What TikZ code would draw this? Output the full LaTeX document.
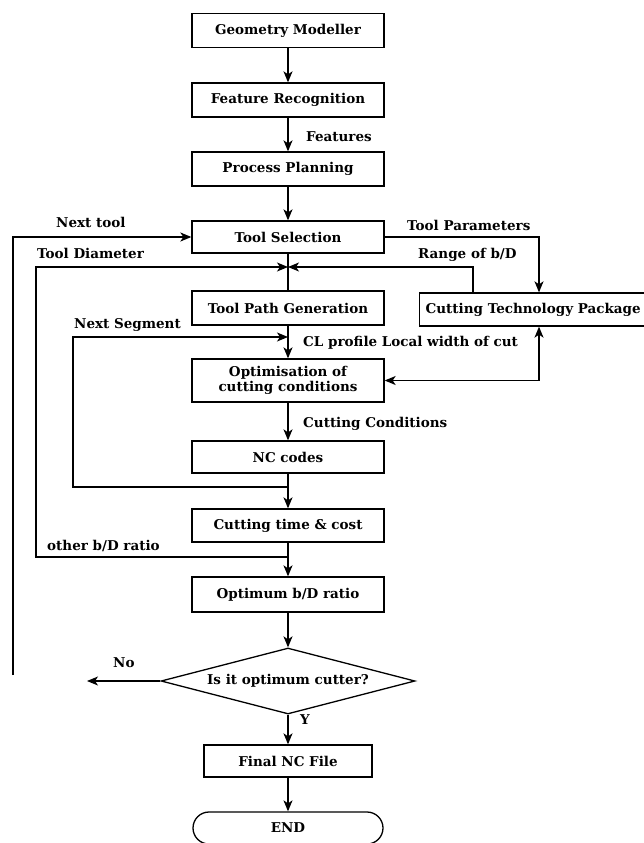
\documentclass[tikz,border=0pt]{standalone}
\usepackage{fontspec}
\setmainfont{DejaVu Serif}
\usetikzlibrary{shapes.geometric,arrows.meta,calc}
\begin{document}
\begin{tikzpicture}[x=1pt,y=-1pt,
  >={Stealth[length=11pt,width=9pt,inset=3pt]},
  txt/.style={font=\fontsize{13.5}{15}\selectfont\bfseries},
  box/.style={draw, txt, line width=1.3pt, minimum width=192pt, minimum height=34pt, inner sep=2pt, align=center},
  dia/.style={draw, txt, diamond, aspect=3.85, line width=1.3pt, minimum width=254pt, minimum height=66pt, inner sep=0pt},
  term/.style={draw, txt, line width=1.3pt, rounded corners=16pt, minimum width=190pt, minimum height=32pt},
  lbl/.style={txt, anchor=west, inner sep=0pt},
  arr/.style={line width=1.3pt, ->},
  ln/.style={line width=1.3pt}]
\useasboundingbox (0,0) rectangle (643,843);
% main column
\node[box] (gm) at (288,30.5) {Geometry Modeller};
\node[box] (fr) at (288,100) {Feature Recognition};
\node[box] (pp) at (288,169) {Process Planning};
\node[box, minimum height=32pt] (ts) at (288,237) {Tool Selection};
\node[box] (tpg) at (288,308) {Tool Path Generation};
\node[box, minimum height=43pt] (opt) at (288,380.5) {Optimisation of\\cutting conditions};
\node[box, minimum height=32pt] (nc) at (288,457) {NC codes};
\node[box, minimum height=33pt] (ctc) at (288,525.5) {Cutting time \& cost};
\node[box, minimum height=35pt] (obd) at (288,594.5) {Optimum b/D ratio};
\node[dia] (dec) at (288,681) {Is it optimum cutter?};
\node[box, minimum width=168pt, minimum height=32pt] (fnc) at (288,761) {Final NC File};
\node[term] (end) at (288,828) {END};
% side box
\node[box, minimum width=0pt, minimum height=33pt, inner xsep=6pt, anchor=west] (ctp) at (419,309.5) {Cutting Technology Package};
% labels
\node[lbl] (lfeat) at (306,137) {Features};
\node[lbl] (lnt) at (56,222) {Next tool};
\node[lbl] (ltd) at (37,253) {Tool Diameter};
\node[lbl] (ltp) at (407,225) {Tool Parameters};
\node[lbl] (lrg) at (418,255) {Range of b/D};
\node[lbl] (lns) at (74,325) {Next Segment};
\node[lbl] (lcl) at (303,343) {CL profile Local width of cut};
\node[lbl] (lcc) at (303,424) {Cutting Conditions};
\node[lbl] (lob) at (47,546) {other b/D ratio};
\node[lbl] (lno) at (113,663) {No};
\node[lbl] (ly) at (300,720) {Y};
% junctions
\coordinate (jt) at (288,267);
\coordinate (js) at (288,337);
\coordinate (jn) at (288,487);
\coordinate (jb) at (288,557);
\coordinate (nx) at (13,675);
\coordinate (no) at (87,681);
% connectors
\path[draw,arr] (gm.south) -- (fr.north);
\path[draw,arr] (fr.south) -- (pp.north);
\path[draw,arr] (pp.south) -- (ts.north);
\path[draw,ln] (ts.south) -- (tpg.north);
\path[draw,arr] (jb) -- ++(-252,0) |- (jt);
\path[draw,arr] ($(ctp.north west)+(54,0)$) |- (jt);
\path[draw,arr] (ts.east) -| ($(ctp.north west)+(120,0)$);
\path[draw,arr] (nx) |- (ts.west);
\path[draw,arr] (tpg.south) -- (opt.north);
\path[draw,arr] (jn) -- ++(-215,0) |- (js);
\path[draw,ln,<->] (opt.east) -| ($(ctp.south west)+(120,0)$);
\path[draw,arr] (opt.south) -- (nc.north);
\path[draw,arr] (nc.south) -- (ctc.north);
\path[draw,arr] (ctc.south) -- (obd.north);
\path[draw,arr] (obd.south) -- (dec.north);
\path[draw,arr] (dec.west) -- (no);
\path[draw,arr] (dec.south) -- (fnc.north);
\path[draw,arr] (fnc.south) -- (end.north);
\end{tikzpicture}
\end{document}
